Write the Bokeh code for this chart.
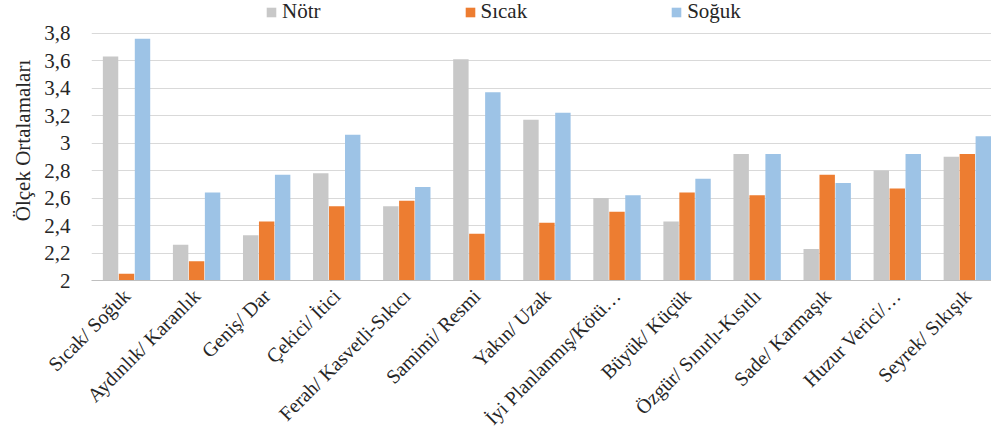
import numpy as np
from bokeh.plotting import figure
from bokeh.models import (Range1d, FixedTicker, CustomJSTickFormatter, Legend, LegendItem,
                          ColumnDataSource)
from bokeh.embed import file_html
from bokeh.resources import INLINE

categories = ["Sıcak/ Soğuk", "Aydınlık/ Karanlık", "Geniş/ Dar", "Çekici/ İtici",
              "Ferah/ Kasvetli-Sıkıcı", "Samimi/ Resmi", "Yakın/ Uzak",
              "İyi Planlanmış/Kötü…", "Büyük/ Küçük", "Özgür/ Sınırlı-Kısıtlı",
              "Sade/ Karmaşık", "Huzur Verici/…", "Seyrek/ Sıkışık"]
notr  = [3.63, 2.26, 2.33, 2.78, 2.54, 3.61, 3.17, 2.60, 2.43, 2.92, 2.23, 2.80, 2.90]
sicak = [2.05, 2.14, 2.43, 2.54, 2.58, 2.34, 2.42, 2.50, 2.64, 2.62, 2.77, 2.67, 2.92]
soguk = [3.76, 2.64, 2.77, 3.06, 2.68, 3.37, 3.22, 2.62, 2.74, 2.92, 2.71, 2.92, 3.05]
series_names = ["Nötr", "Sıcak", "Soğuk"]
y_ticks = [2.0, 2.2, 2.4, 2.6, 2.8, 3.0, 3.2, 3.4, 3.6, 3.8]
y_tick_labels = ["2", "2,2", "2,4", "2,6", "2,8", "3", "3,2", "3,4", "3,6", "3,8"]
y_title = "Ölçek Ortalamaları"

colors = ["#c8c8c8", "#ed7d31", "#9dc3e6"]
FONT = "'Liberation Serif', 'Times New Roman', 'DejaVu Serif', serif"
TXT = "#262626"

idx = np.arange(len(categories))
# frame spans the whole top of the page so the legend (drawn inside it) sits above the 3,8 line
p = figure(width=991, height=439, output_backend="svg", toolbar_location=None,
           x_range=Range1d(-0.5, 12.345), y_range=Range1d(2, 2 + 283 / 138.9),
           min_border_left=91, min_border_right=0, min_border_top=0,
           min_border_bottom=156)
p.outline_line_color = None
p.background_fill_color = "white"
p.border_fill_color = "white"

renderers = []
offsets = [-0.228, 0.0, 0.228]
for name, vals, col, off in zip(series_names, [notr, sicak, soguk], colors, offsets):
    src = ColumnDataSource(dict(x=idx + off, top=vals))
    r = p.vbar(x="x", top="top", bottom=2, width=0.22, source=src,
               fill_color=col, line_color=None)
    renderers.append((name, r))

p.xgrid.grid_line_color = None
p.ygrid.grid_line_color = "#d9d9d9"
p.ygrid.grid_line_width = 1
p.ygrid.ticker = FixedTicker(ticks=y_ticks)

# y axis
ya = p.yaxis[0]
ya.ticker = FixedTicker(ticks=y_ticks)
ya.formatter = CustomJSTickFormatter(args=dict(yt=y_ticks, lab=y_tick_labels), code="""
let best = 0, bd = 1e9;
for (let i = 0; i < yt.length; i++) { const d = Math.abs(yt[i] - tick); if (d < bd) { bd = d; best = i; } }
return lab[best];
""")
ya.axis_line_color = None
ya.major_tick_line_color = None
ya.minor_tick_line_color = None
ya.major_label_text_font = FONT
ya.major_label_text_font_size = "21px"
ya.major_label_text_color = TXT
ya.major_label_standoff = 15
ya.axis_label = y_title
ya.axis_label_text_font = FONT
ya.axis_label_text_font_size = "21px"
ya.axis_label_text_font_style = "normal"
ya.axis_label_text_color = TXT
ya.axis_label_standoff = 6

# x axis
xa = p.xaxis[0]
xa.ticker = FixedTicker(ticks=list(int(i) for i in idx))
xa.formatter = CustomJSTickFormatter(args=dict(cats=categories),
                                     code="return cats[Math.round(tick)];")
xa.axis_line_color = "#bfbfbf"
xa.axis_line_width = 1
xa.major_tick_line_color = None
xa.minor_tick_line_color = None
xa.major_label_orientation = np.pi / 4
xa.major_label_text_font = FONT
xa.major_label_text_font_size = "20px"
xa.major_label_text_color = TXT
xa.major_label_standoff = 6

legend = Legend(items=[LegendItem(label=n, renderers=[r]) for n, r in renderers],
                orientation="horizontal", location=(174, 256),
                spacing=143, padding=0, margin=0, label_standoff=5,
                glyph_width=12, glyph_height=12,
                label_text_font=FONT, label_text_font_size="21px",
                label_text_color=TXT,
                border_line_color=None, background_fill_alpha=0)
p.add_layout(legend, "center")

open("out.html", "w").write(file_html(p, INLINE))
